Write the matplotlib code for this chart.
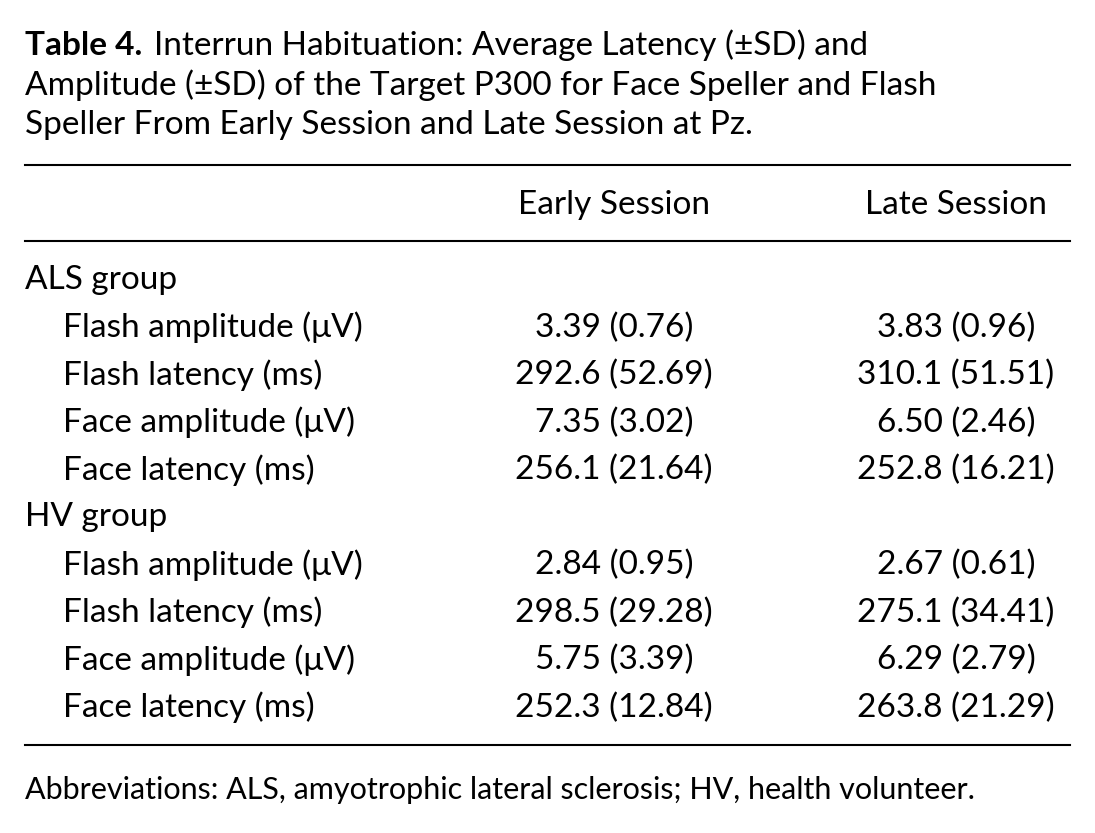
import matplotlib.pyplot as plt

plt.rcParams['font.family'] = ['Lato', 'DejaVu Sans']

title_lines = ["Interrun Habituation: Average Latency (\u00b1SD) and",
               "Amplitude (\u00b1SD) of the Target P300 for Face Speller and Flash",
               "Speller From Early Session and Late Session at Pz."]
columns = ["Early Session", "Late Session"]
groups = ["ALS group", "HV group"]
measures = ["Flash amplitude (\u03bcV)", "Flash latency (ms)",
            "Face amplitude (\u03bcV)", "Face latency (ms)"]
early = [["3.39 (0.76)", "292.6 (52.69)", "7.35 (3.02)", "256.1 (21.64)"],
         ["2.84 (0.95)", "298.5 (29.28)", "5.75 (3.39)", "252.3 (12.84)"]]
late = [["3.83 (0.96)", "310.1 (51.51)", "6.50 (2.46)", "252.8 (16.21)"],
        ["2.67 (0.61)", "275.1 (34.41)", "6.29 (2.79)", "263.8 (21.29)"]]
footnote = "Abbreviations: ALS, amyotrophic lateral sclerosis; HV, health volunteer."

W, H = 1095, 833
fig = plt.figure(figsize=(W / 100, H / 100), dpi=100)
ax = fig.add_axes([0, 0, 1, 1])
ax.set_xlim(0, W)
ax.set_ylim(H, 0)
ax.axis('off')

fs = 24
# title
for i, line in enumerate(title_lines):
    y = 45 + 40 * i
    if i == 0:
        t = ax.text(25, y, "Table 4.", fontsize=fs, fontweight='bold', va='center')
        fig.canvas.draw()
        bb = t.get_window_extent()
        ax.text(25 + bb.width + 12, y, line, fontsize=fs, va='center')
    else:
        ax.text(25, y, line, fontsize=fs, va='center')

for y in (165, 241, 745):
    ax.plot([25, 1070], [y, y], color='black', lw=1.5)

col_x = [614, 956]
for x, c in zip(col_x, columns):
    ax.text(x, 205, c, fontsize=fs, ha='center', va='center')

y = 280
for g, grp in enumerate(groups):
    ax.text(25, y, grp, fontsize=fs, va='center')
    y += 47.5
    for m, meas in enumerate(measures):
        ax.text(63, y, meas, fontsize=fs, va='center')
        ax.text(col_x[0], y, early[g][m], fontsize=fs, ha='center', va='center')
        ax.text(col_x[1], y, late[g][m], fontsize=fs, ha='center', va='center')
        y += 47.5

ax.text(25, 790, footnote, fontsize=22, va='center')

fig.savefig('out.png', dpi=100)
